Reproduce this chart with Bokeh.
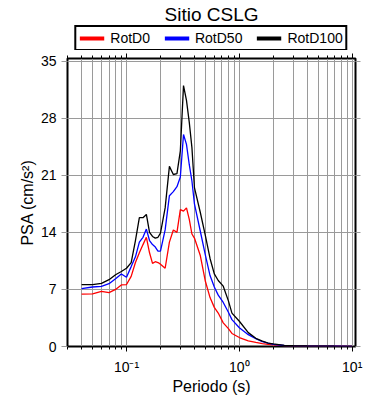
from bokeh.plotting import figure
from bokeh.layouts import column
from bokeh.models import (Range1d, FixedTicker, LinearAxis, LogAxis, Legend,
                          LegendItem)
from bokeh.embed import file_html
from bokeh.resources import INLINE

# ---- data ----
periods = [0.04, 0.05, 0.06, 0.07, 0.08, 0.09, 0.10, 0.11, 0.12, 0.13, 0.14,
           0.15, 0.16, 0.17, 0.18, 0.19, 0.20, 0.22, 0.24, 0.26, 0.28, 0.30,
           0.32, 0.34, 0.36, 0.38, 0.40, 0.45, 0.50, 0.55, 0.60, 0.65, 0.72,
           0.80, 0.86, 1.0, 1.2, 1.4, 1.6, 1.8, 2.0, 2.5, 3.0, 4.0, 5.0, 7.0,
           10.0]
rotd0 = [6.43, 6.45, 6.75, 6.6, 7.0, 7.55, 7.6, 8.6, 10.3, 11.5, 12.5,
         13.4, 11.5, 10.2, 10.4, 10.3, 10.1, 9.6, 12.8, 14.3, 14.0, 16.8,
         16.6, 17.0, 15.6, 13.8, 13.3, 11.2, 8.0, 6.0, 4.8, 4.1, 2.9,
         2.2, 1.6, 1.1, 0.7, 0.5, 0.35, 0.25, 0.2, 0.1, 0.07, 0.05, 0.04, 0.03,
         0.02]
rotd50 = [7.1, 7.3, 7.37, 7.7, 8.3, 8.9, 8.5, 9.8, 11.0, 12.8, 13.4,
          14.4, 13.0, 12.5, 12.2, 11.7, 11.7, 14.3, 18.5, 19.0, 19.6, 20.8,
          26.0, 24.8, 22.3, 20.3, 17.5, 14.2, 11.2, 8.7, 7.3, 6.3, 5.4,
          4.2, 3.3, 2.3, 1.45, 0.95, 0.6, 0.4, 0.25, 0.12, 0.08, 0.05, 0.04,
          0.03, 0.02]
rotd100 = [7.6, 7.6, 7.75, 8.2, 8.8, 9.2, 9.6, 10.3, 13.0, 15.8, 15.8,
           16.2, 14.0, 13.5, 13.3, 13.4, 13.9, 17.0, 22.1, 21.1, 21.2, 24.0,
           32.0, 30.2, 27.5, 24.4, 19.5, 16.5, 13.6, 10.8, 8.9, 8.1, 7.4,
           5.6, 4.1, 3.1, 1.7, 1.0, 0.65, 0.42, 0.32, 0.14, 0.09, 0.06, 0.05,
           0.03, 0.02]

series_names = ["RotD0", "RotD50", "RotD100"]
series_colors = ["#ff0000", "#0000ff", "#000000"]

y_ticks = [0, 7, 14, 21, 28, 35]
x_major = [0.1, 1, 10]
x_minor = [0.03, 0.04, 0.05, 0.06, 0.07, 0.08, 0.09,
           0.2, 0.3, 0.4, 0.5, 0.6, 0.7, 0.8, 0.9,
           2, 3, 4, 5, 6, 7, 8, 9]
x_labels = {0.1: "10\u207b\u00b9", 1: "10\u2070", 10: "10\u00b9"}

FONT = "Liberation Sans"
GRID = "#9a9a9a"

# ---------- header: title + legend ----------
hdr = figure(width=390, height=50, x_range=Range1d(1000, 1001),
             y_range=Range1d(1000, 1001), x_axis_location=None,
             y_axis_location=None, output_backend="svg",
             toolbar_location=None, title="Sitio CSLG",
             min_border_left=67, min_border_right=35,
             min_border_top=0, min_border_bottom=0)
hdr.title.text_font = FONT
hdr.title.text_font_size = "19px"
hdr.title.text_font_style = "normal"
hdr.title.align = "center"
hdr.title.text_color = "black"
hdr.title.standoff = 2
hdr.outline_line_color = None
hdr.grid.visible = False
hdr.background_fill_color = "white"
hdr.border_fill_color = "white"

leg_renderers = []
for vals, col in zip([rotd0, rotd50, rotd100], series_colors):
    lr = hdr.line(periods, vals, line_color=col, line_width=4)
    leg_renderers.append(lr)

legend = Legend(items=[LegendItem(label=n, renderers=[r])
                       for n, r in zip(series_names, leg_renderers)],
                orientation="horizontal", location="center",
                glyph_width=25, glyph_height=12, label_standoff=6,
                spacing=14, padding=3, margin=0,
                border_line_color="black", border_line_width=2,
                border_line_alpha=1.0,
                label_text_font=FONT, label_text_font_size="14px",
                label_text_color="black",
                label_height=12, background_fill_color="white")
hdr.add_layout(legend, "center")

# ---------- main plot ----------
p = figure(width=390, height=350, x_axis_type="log",
           x_range=Range1d(0.03, 10.7), y_range=Range1d(0, 35.33),
           output_backend="svg", toolbar_location=None,
           min_border_left=67, min_border_right=35,
           min_border_top=8, min_border_bottom=54)

p.outline_line_color = "black"
p.outline_line_width = 2
p.background_fill_color = "white"
p.border_fill_color = "white"

xt = FixedTicker(ticks=x_major, minor_ticks=x_minor)
yt = FixedTicker(ticks=y_ticks)

# bottom axis
xa = p.xaxis[0]
xa.ticker = xt
xa.major_label_overrides = x_labels
xa.axis_label = "Periodo (s)"
xa.axis_label_text_font = FONT
xa.axis_label_text_font_size = "16px"
xa.axis_label_text_font_style = "normal"
xa.axis_label_text_color = "black"
xa.axis_label_standoff = 0
xa.major_label_text_font = FONT
xa.major_label_text_font_size = "14px"
xa.major_label_text_color = "black"
xa.major_label_standoff = 7
xa.axis_line_color = None
xa.major_tick_in = 0
xa.major_tick_out = 5
xa.minor_tick_in = 0
xa.minor_tick_out = 3
xa.major_tick_line_color = "black"
xa.minor_tick_line_color = "black"

# left axis
ya = p.yaxis[0]
ya.ticker = yt
ya.axis_label = "PSA (cm/s\u00b2)"
ya.axis_label_text_font = FONT
ya.axis_label_text_font_size = "16px"
ya.axis_label_text_font_style = "normal"
ya.axis_label_text_color = "black"
ya.axis_label_standoff = 2
ya.major_label_text_font = FONT
ya.major_label_text_font_size = "14px"
ya.major_label_text_color = "black"
ya.major_label_standoff = 5
ya.axis_line_color = None
ya.major_tick_in = 0
ya.major_tick_out = 6
ya.major_tick_line_color = GRID
ya.minor_tick_line_color = None

# right axis (ticks only)
ra = LinearAxis(ticker=yt, axis_line_color=None, major_tick_in=0,
                major_tick_out=5, major_tick_line_color=GRID,
                minor_tick_line_color=None, major_label_text_color=None,
                major_label_text_font_size="1px", major_label_standoff=0)
p.add_layout(ra, "right")

# top axis (ticks only)
ta = LogAxis(ticker=xt, axis_line_color=None, major_tick_in=0,
             major_tick_out=5, minor_tick_in=0, minor_tick_out=3,
             major_tick_line_color="black", minor_tick_line_color="black",
             major_label_text_color=None,
             major_label_text_font_size="1px", major_label_standoff=0)
p.add_layout(ta, "above")

# grids
p.xgrid.ticker = xt
p.xgrid.grid_line_color = GRID
p.xgrid.minor_grid_line_color = GRID
p.ygrid.ticker = yt
p.ygrid.grid_line_color = GRID

for vals, col in zip([rotd0, rotd50, rotd100], series_colors):
    p.line(periods, vals, line_color=col, line_width=1.3)

layout = column(hdr, p, spacing=0)
open("out.html", "w").write(file_html(layout, INLINE))
